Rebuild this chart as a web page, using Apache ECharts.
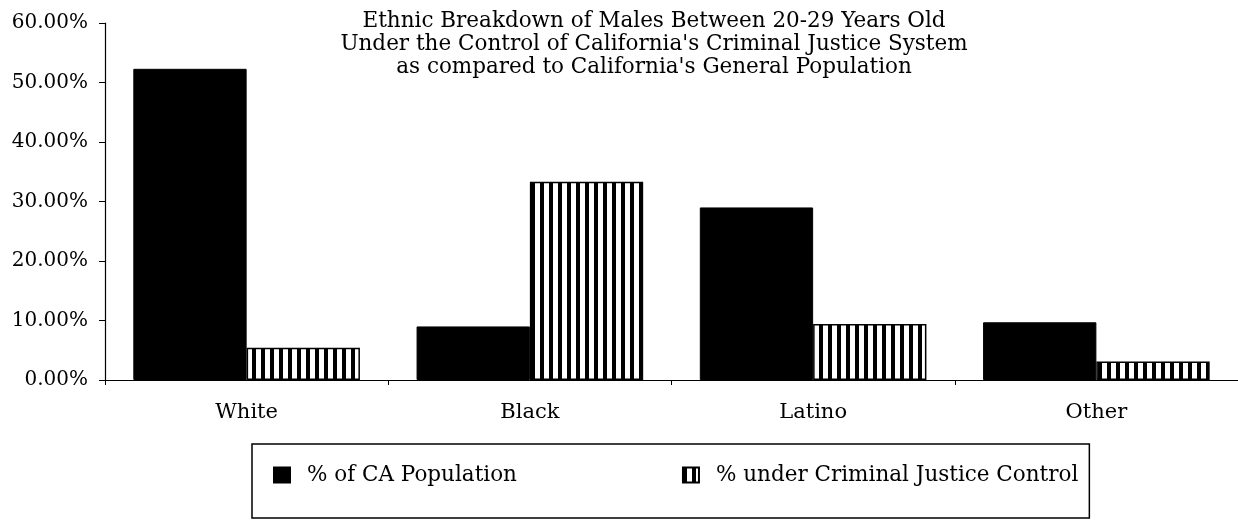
<!DOCTYPE html>
<html>
<head>
<meta charset="utf-8">
<script src="https://cdn.jsdelivr.net/npm/echarts@6/dist/echarts.min.js"></script>
<style>
  html, body { margin: 0; padding: 0; background: #fff; }
  #chart { width: 1238px; height: 520px; }
</style>
</head>
<body>
<div id="chart"></div>
<script>
// data
var categories = ['White', 'Black', 'Latino', 'Other'];
var caPopulation = [52.3, 9.0, 29.0, 9.7];
var underControl = [5.4, 33.3, 9.4, 3.1];
var seriesNames = ['% of CA Population', '% under Criminal Justice Control'];
var titleLines = [
  'Ethnic Breakdown of Males Between 20-29 Years Old',
  "Under the Control of California's Criminal Justice System",
  "as compared to California's General Population"
];

// vertical stripe fill
var stripe = document.createElement('canvas');
stripe.width = 9;
stripe.height = 4;
var sctx = stripe.getContext('2d');
sctx.fillStyle = '#fff';
sctx.fillRect(0, 0, 9, 4);
sctx.fillStyle = '#000';
sctx.fillRect(0, 0, 4, 4);

var font = 'DejaVu Serif';

var chart = echarts.init(document.getElementById('chart'));
chart.setOption({
  animation: false,
  title: {
    text: titleLines.join('\n'),
    left: 649,
    top: 5,
    textAlign: 'center',
    textStyle: {
      fontFamily: font,
      fontSize: 21.5,
      fontWeight: 'normal',
      color: '#000',
      lineHeight: 23
    }
  },
  legend: {
    left: 252,
    top: 444,
    padding: [20, 11, 32, 21],
    itemGap: 165,
    itemWidth: 16,
    itemHeight: 15,
    borderColor: '#000',
    borderWidth: 1.5,
    icon: 'rect',
    textStyle: {
      fontFamily: font,
      fontSize: 21.5,
      color: '#000',
      lineHeight: 22,
      padding: [0, 0, 0, 12]
    },
    data: seriesNames
  },
  grid: { left: 105, right: -3, top: 23, bottom: 140, containLabel: false },
  xAxis: {
    type: 'category',
    data: categories,
    axisLine: { lineStyle: { color: '#000', width: 1.2 } },
    axisTick: { show: true, length: 5, lineStyle: { color: '#000' } },
    axisLabel: { fontFamily: font, fontSize: 21, color: '#000', margin: 22 }
  },
  yAxis: {
    type: 'value',
    min: 0,
    max: 60,
    interval: 10,
    axisLine: { show: true, lineStyle: { color: '#000', width: 1.2 } },
    axisTick: { show: true, length: 6, lineStyle: { color: '#000' } },
    splitLine: { show: false },
    axisLabel: {
      fontFamily: font,
      fontSize: 20,
      color: '#000',
      margin: 17,
      formatter: function (v) { return v.toFixed(2) + '%'; }
    }
  },
  series: [
    {
      name: seriesNames[0],
      type: 'bar',
      data: caPopulation,
      barGap: '0%',
      barCategoryGap: '20%',
      itemStyle: { color: '#000', borderColor: '#000', borderWidth: 1 }
    },
    {
      name: seriesNames[1],
      type: 'bar',
      data: underControl,
      itemStyle: {
        color: { image: stripe, repeat: 'repeat' },
        borderColor: '#000',
        borderWidth: 1.5
      }
    }
  ]
});
</script>
</body>
</html>
